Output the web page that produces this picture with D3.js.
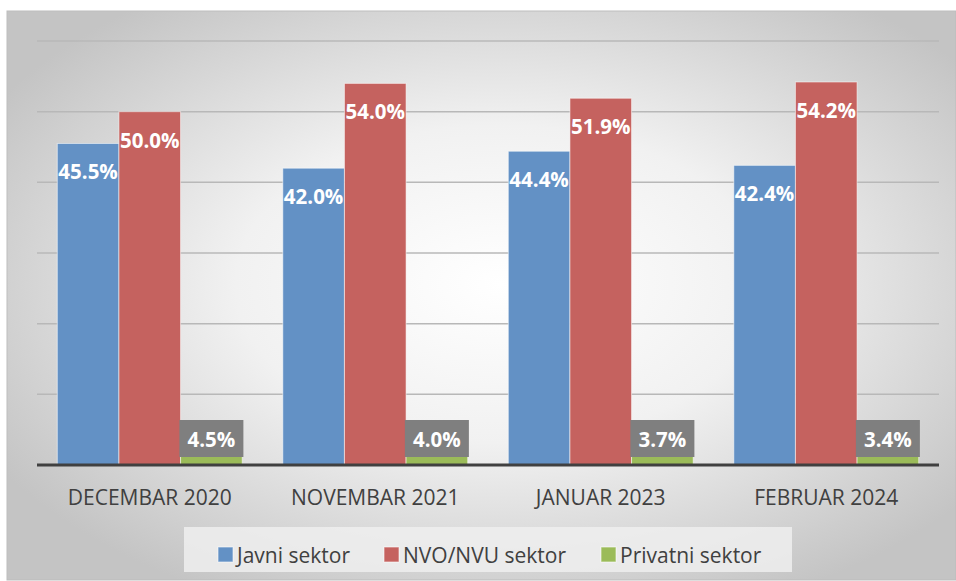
<!DOCTYPE html>
<html>
<head>
<meta charset="utf-8">
<script src="https://cdn.jsdelivr.net/npm/d3@7"></script>
<style>
  html, body { margin: 0; padding: 0; background: #ffffff; }
  svg { display: block; font-family: "Open Sans", "DejaVu Sans", sans-serif; }
</style>
</head>
<body>
<div id="chart"></div>
<script>
// ---- data ----
const categories = ["DECEMBAR 2020", "NOVEMBAR 2021", "JANUAR 2023", "FEBRUAR 2024"];
const seriesNames = ["Javni sektor", "NVO/NVU sektor", "Privatni sektor"];
const javni = [45.5, 42.0, 44.4, 42.4];
const nvo = [50.0, 54.0, 51.9, 54.2];
const privatni = [4.5, 4.0, 3.7, 3.4];
const seriesColors = ["#6391c5", "#c5625f", "#9bbb59"];
const yTicks = [0, 10, 20, 30, 40, 50, 60];

const seriesValues = [javni, nvo, privatni];

// ---- svg ----
const width = 956, height = 581;
const svg = d3.select("#chart").append("svg")
  .attr("width", width)
  .attr("height", height);

// background panel with radial gradient
const defs = svg.append("defs");
const bg = defs.append("radialGradient")
  .attr("id", "bg-grad")
  .attr("cx", "52%").attr("cy", "48%").attr("r", "62%");
bg.append("stop").attr("offset", "0%").attr("stop-color", "#ffffff");
bg.append("stop").attr("offset", "45%").attr("stop-color", "#f1f1f1");
bg.append("stop").attr("offset", "100%").attr("stop-color", "#c4c4c4");

svg.append("rect")
  .attr("x", 7).attr("y", 11)
  .attr("width", 949).attr("height", 569)
  .attr("fill", "url(#bg-grad)")
  .attr("stroke", "#bdbdbd")
  .attr("stroke-width", 1);

// ---- scales ----
const x0 = d3.scaleBand()
  .domain(categories)
  .range([37, 939])
  .paddingInner(0.18)
  .paddingOuter(0.09);

const x1 = d3.scaleBand()
  .domain(seriesNames)
  .range([0, x0.bandwidth()]);

const y = d3.scaleLinear()
  .domain([0, 60])
  .range([465, 41]);

// gridlines
svg.append("g")
  .selectAll("line")
  .data(yTicks.filter(d => d > 0))
  .enter().append("line")
  .attr("x1", 37).attr("x2", 939)
  .attr("y1", d => y(d)).attr("y2", d => y(d))
  .attr("stroke", "#b8b8b8")
  .attr("stroke-width", 1.5);

// ---- bars ----
const rows = [];
categories.forEach((c, i) => {
  seriesNames.forEach((s, j) => {
    rows.push({ cat: c, series: s, j: j, value: seriesValues[j][i] });
  });
});

const groups = svg.append("g");

groups.selectAll("rect.bar")
  .data(rows)
  .enter().append("rect")
  .attr("class", "bar")
  .attr("x", d => x0(d.cat) + x1(d.series))
  .attr("y", d => y(d.value))
  .attr("width", x1.bandwidth())
  .attr("height", d => y(0) - y(d.value))
  .attr("fill", d => seriesColors[d.j])
  .attr("stroke", "rgba(255,255,255,0.55)")
  .attr("stroke-width", 1);

// labels inside top for the big series
groups.selectAll("text.in")
  .data(rows.filter(d => d.j < 2))
  .enter().append("text")
  .attr("class", "in")
  .attr("x", d => x0(d.cat) + x1(d.series) + x1.bandwidth() / 2)
  .attr("y", d => y(d.value) + 28)
  .attr("text-anchor", "middle")
  .attr("dominant-baseline", "central")
  .attr("fill", "#ffffff")
  .attr("font-weight", "bold")
  .attr("font-size", 20.5)
  .text(d => d.value.toFixed(1) + "%");

// boxed labels for small series
const small = rows.filter(d => d.j === 2);
const boxW = 64, boxH = 37;

groups.selectAll("rect.lbl")
  .data(small)
  .enter().append("rect")
  .attr("class", "lbl")
  .attr("x", d => x0(d.cat) + x1(d.series) + x1.bandwidth() / 2 - boxW / 2)
  .attr("y", y(0) - 8 - boxH)
  .attr("width", boxW)
  .attr("height", boxH)
  .attr("fill", "#7f7f7f");

groups.selectAll("text.lbl")
  .data(small)
  .enter().append("text")
  .attr("class", "lbl")
  .attr("x", d => x0(d.cat) + x1(d.series) + x1.bandwidth() / 2)
  .attr("y", y(0) - 8 - boxH / 2)
  .attr("text-anchor", "middle")
  .attr("dominant-baseline", "central")
  .attr("fill", "#ffffff")
  .attr("font-weight", "bold")
  .attr("font-size", 20.5)
  .text(d => d.value.toFixed(1) + "%");

// ---- x axis ----
svg.append("line")
  .attr("x1", 37).attr("x2", 939)
  .attr("y1", y(0)).attr("y2", y(0))
  .attr("stroke", "#404040")
  .attr("stroke-width", 3);

svg.append("g")
  .selectAll("text")
  .data(categories)
  .enter().append("text")
  .attr("x", d => x0(d) + x0.bandwidth() / 2)
  .attr("y", 497)
  .attr("text-anchor", "middle")
  .attr("dominant-baseline", "central")
  .attr("fill", "#404040")
  .attr("font-size", 21)
  .text(d => d);

// ---- legend ----
svg.append("rect")
  .attr("x", 184).attr("y", 527)
  .attr("width", 608).attr("height", 45)
  .attr("fill", "#eeeeee")
  .attr("fill-opacity", 0.85);

const legendX = [218, 384, 601];
const legend = svg.append("g")
  .selectAll("g")
  .data(seriesNames)
  .enter().append("g")
  .attr("transform", (d, i) => `translate(${legendX[i]}, 547)`);

legend.append("rect")
  .attr("width", 15).attr("height", 15)
  .attr("fill", (d, i) => seriesColors[i])
  .attr("stroke", "rgba(255,255,255,0.6)");

legend.append("text")
  .attr("x", 19)
  .attr("y", 8)
  .attr("dominant-baseline", "central")
  .attr("fill", "#404040")
  .attr("font-size", 21)
  .text(d => d);
</script>
</body>
</html>
